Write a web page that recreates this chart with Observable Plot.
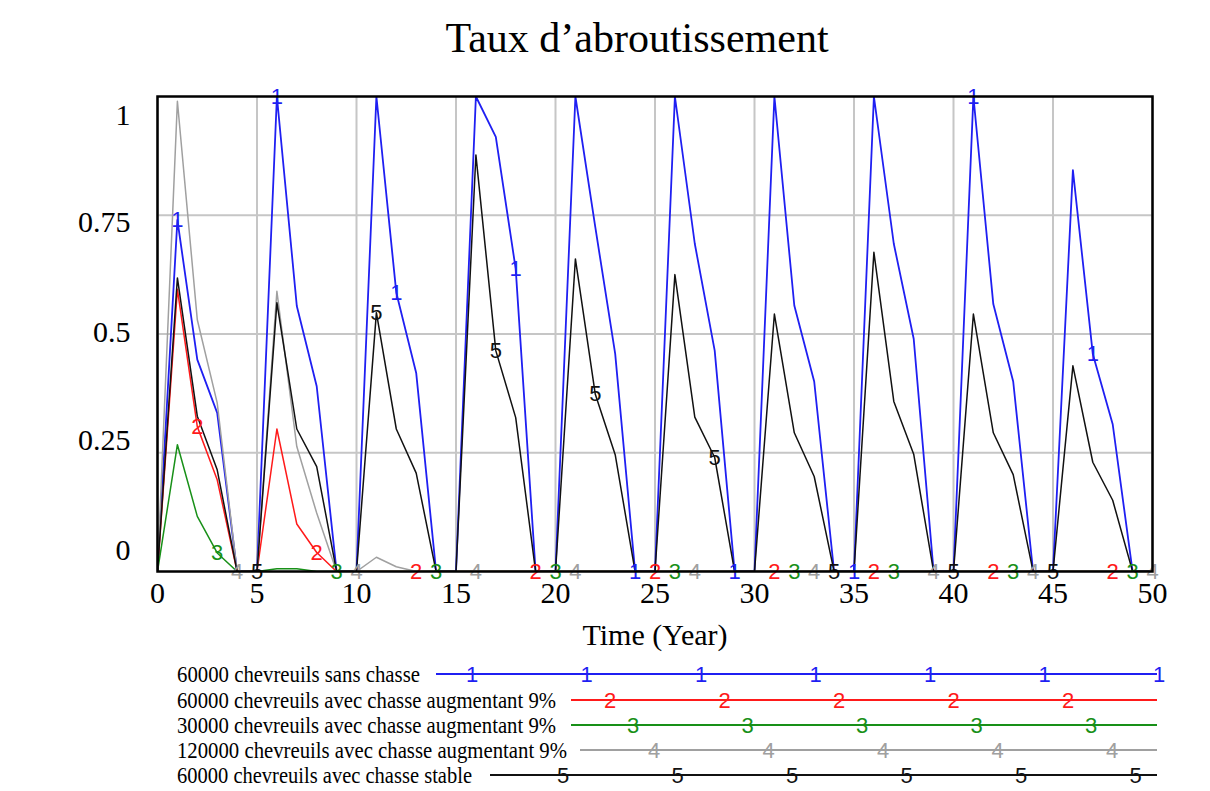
<!DOCTYPE html>
<html><head><meta charset="utf-8">
<script src="https://cdn.jsdelivr.net/npm/d3@7"></script>
<script src="https://cdn.jsdelivr.net/npm/@observablehq/plot@0.6"></script>
<style>
body{margin:0;background:#fff;}
#chart{position:relative;width:1210px;height:791px;}
</style>
</head><body><div id="chart"></div>
<script>
// ---------- DATA ----------
const title = "Taux d’abroutissement";
const xLabel = "Time (Year)";
const years = [0,1,2,3,4,5,6,7,8,9,10,11,12,13,14,15,16,17,18,19,20,21,22,23,24,25,26,27,28,29,30,31,32,33,34,35,36,37,38,39,40,41,42,43,44,45,46,47,48,49,50];
const seriesNames = [
  "60000 chevreuils sans chasse",
  "60000 chevreuils avec chasse augmentant 9%",
  "30000 chevreuils avec chasse augmentant 9%",
  "120000 chevreuils avec chasse augmentant 9%",
  "60000 chevreuils avec chasse stable"
];
const seriesKeys = ["1","2","3","4","5"];
const s1 = [0,0.74,0.446,0.334,0, 0,1.0,0.559,0.39,0, 0,1.0,0.587,0.418,0, 0,1.0,0.915,0.637,0, 0,1.0,0.725,0.458,0, 0,1.0,0.69,0.465,0, 0,1.0,0.56,0.40,0, 0,1.0,0.69,0.49,0, 0,1.0,0.563,0.40,0, 0,0.845,0.458,0.31,0, 0];
const s2 = [0,0.594,0.305,0.193,0, 0,0.30,0.10,0.04,0, 0,0,0,0,0, 0,0,0,0,0, 0,0,0,0,0, 0,0,0,0,0, 0,0,0,0,0, 0,0,0,0,0, 0,0,0,0,0, 0,0,0,0,0, 0];
const s3 = [0,0.267,0.116,0.039,0, 0,0.006,0.006,0,0, 0,0,0,0,0, 0,0,0,0,0, 0,0,0,0,0, 0,0,0,0,0, 0,0,0,0,0, 0,0,0,0,0, 0,0,0,0,0, 0,0,0,0,0, 0];
const s4 = [0,0.99,0.53,0.355,0, 0,0.59,0.263,0.123,0, 0,0.03,0.01,0,0, 0,0,0,0,0, 0,0,0,0,0, 0,0,0,0,0, 0,0,0,0,0, 0,0,0,0,0, 0,0,0,0,0, 0,0,0,0,0, 0];
const s5 = [0,0.618,0.327,0.214,0, 0,0.566,0.30,0.221,0, 0,0.545,0.30,0.207,0, 0,0.877,0.465,0.324,0, 0,0.658,0.373,0.246,0, 0,0.625,0.325,0.24,0, 0,0.542,0.292,0.20,0, 0,0.672,0.358,0.247,0, 0,0.542,0.292,0.204,0, 0,0.433,0.23,0.15,0, 0];
// years at which the series number markers sit on each curve
const markerYears1 = [1,6,12,18,24,29,35,41,47];
const markerYears2 = [2,8,13,19,25,31,36,42,48];
const markerYears3 = [3,9,14,20,26,32,37,43,49];
const markerYears4 = [4,10,16,21,27,33,39,44,50];
const markerYears5 = [5,11,17,22,28,34,40,45];
const xTicks = [0,5,10,15,20,25,30,35,40,45,50];
const yTicks = [0,0.25,0.5,0.75,1];
const yTickLabels = ["0","0.25","0.5","0.75","1"];

// ---------- STYLE / LAYOUT ----------
const colors = ["#1f1ff2","#ff1a1a","#189018","#a0a0a0","#111111"];
const serif = "'Liberation Serif','Times New Roman',Times,serif";
const sans = "'Liberation Sans',Arial,sans-serif";
const yLabelShift = [-21, -12, -1.5, 7, 19];

const allSeries = [s1,s2,s3,s4,s5];
const allMarkers = [markerYears1,markerYears2,markerYears3,markerYears4,markerYears5];
const rows = allSeries.flatMap((vals, si) => years.map((t, i) => ({t, v: vals[i], s: si})));
const markerRows = allMarkers.flatMap((ys, si) => ys.map(t => ({t, v: allSeries[si][years.indexOf(t)], s: si, k: seriesKeys[si]})));

const marks = [
  Plot.gridX(xTicks, {stroke: "#c6c6c6", strokeOpacity: 1, strokeWidth: 2}),
  Plot.gridY(yTicks.filter(d => d > 0 && d < 1), {stroke: "#c6c6c6", strokeOpacity: 1, strokeWidth: 2}),
  ...allSeries.map((_, si) => Plot.line(rows.filter(r => r.s === si), {x: "t", y: "v", stroke: colors[si], strokeWidth: si === 0 ? 1.8 : 1.5, clip: true})),
  ...allSeries.map((_, si) => Plot.text(markerRows.filter(r => r.s === si), {x: "t", y: "v", text: "k", fill: colors[si], fontSize: 22, fontFamily: sans, lineAnchor: "middle", textAnchor: "middle"})),
  Plot.frame({stroke: "#000", strokeWidth: 2.5}),
  Plot.axisX(xTicks, {tickSize: 0, tickPadding: 10, fontSize: 30, fontFamily: serif, fill: "#000", label: null, tickFormat: d => String(d)}),
  ...yTicks.map((v, i) => Plot.axisY([v], {tickSize: 0, tickPadding: 27, fontSize: 30, fontFamily: serif, fill: "#000", label: null, dy: yLabelShift[i], tickFormat: () => yTickLabels[i]})),
  Plot.text([title], {frameAnchor: "top", dy: -58, dx: -18, fontSize: 42, fontFamily: serif, fill: "#000", lineAnchor: "middle"}),
  Plot.text([xLabel], {frameAnchor: "bottom", dy: 64, fontSize: 30, fontFamily: serif, fill: "#000", lineAnchor: "middle"})
];

const svg = Plot.plot({
  width: 1210, height: 791,
  marginLeft: 157, marginRight: 58, marginTop: 96, marginBottom: 220,
  x: {domain: [0, 50]},
  y: {domain: [0, 1]},
  style: {background: "#fff", color: "#000", fontFamily: serif, overflow: "visible"},
  marks
});
document.getElementById("chart").appendChild(svg);

// ---------- LEGEND ----------
const legendLayout = [
  {y: 674, textLen: 243, lineStart: 436, markerStart: 472, n: 7},
  {y: 700, textLen: 379, lineStart: 571, markerStart: 610, n: 5},
  {y: 725, textLen: 379, lineStart: 571, markerStart: 633, n: 5},
  {y: 750, textLen: 390, lineStart: 580, markerStart: 654, n: 5},
  {y: 775, textLen: 295, lineStart: 490, markerStart: 563, n: 6}
];
const g = d3.select(svg).append("g").attr("text-anchor", "start");
legendLayout.forEach((L, i) => {
  g.append("text").attr("x", 177).attr("y", L.y + 8)
    .attr("text-anchor", "start")
    .attr("font-family", serif).attr("font-size", 23).attr("fill", "#000")
    .attr("textLength", L.textLen).attr("lengthAdjust", "spacingAndGlyphs")
    .text(seriesNames[i]);
  g.append("line").attr("x1", L.lineStart).attr("x2", 1157).attr("y1", L.y).attr("y2", L.y)
    .attr("stroke", colors[i]).attr("stroke-width", 2);
  for (let j = 0; j < L.n; j++) {
    g.append("text").attr("x", L.markerStart + 114.5 * j).attr("y", L.y + 8)
      .attr("text-anchor", "middle").attr("font-family", sans).attr("font-size", 22)
      .attr("fill", colors[i]).text(seriesKeys[i]);
  }
});
</script>
</body></html>
